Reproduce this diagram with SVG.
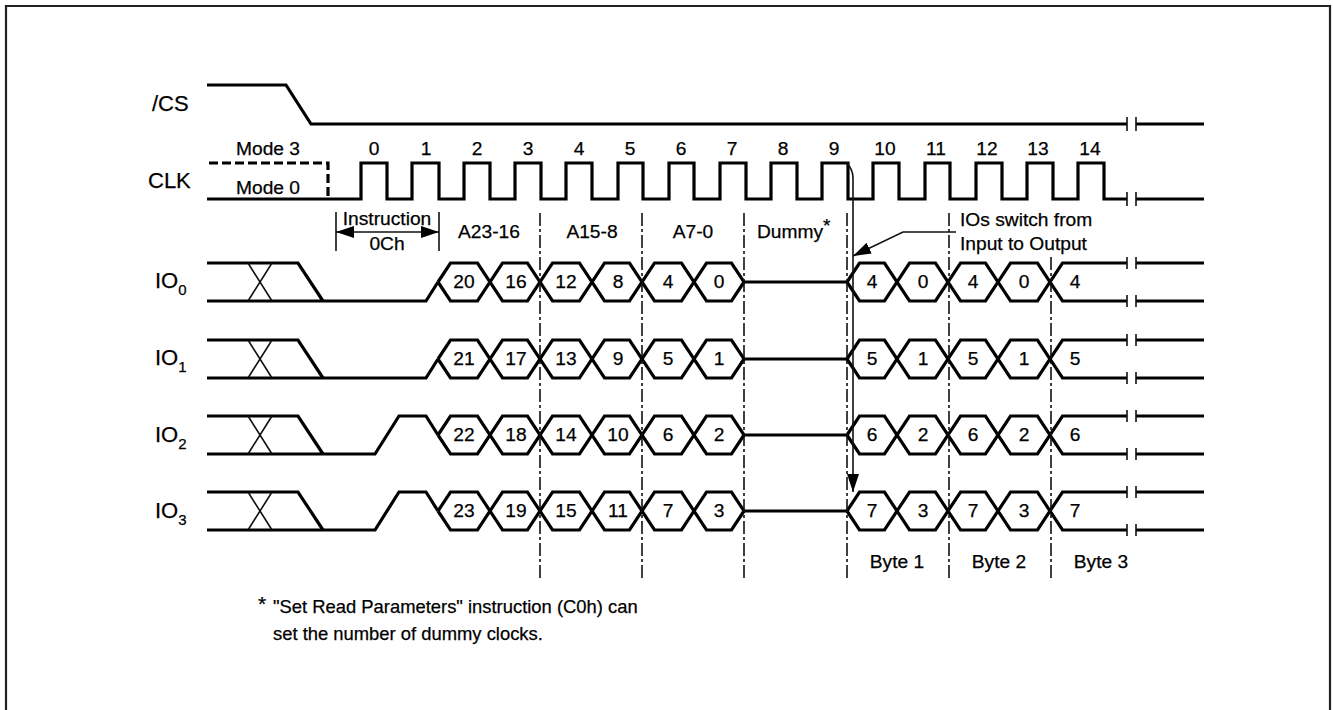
<svg xmlns="http://www.w3.org/2000/svg" xmlns:xlink="http://www.w3.org/1999/xlink" width="1333" height="710" viewBox="0 0 1333 710">
<style>
text{font-family:"Liberation Sans",Arial,sans-serif;font-size:19.2px;fill:#000;stroke:#000;stroke-width:.25}
.m{text-anchor:middle}
.sig{font-size:22px}
.sub{font-size:15px}
.fn{font-size:18.4px}
.w{fill:none;stroke:#000;stroke-width:3.2}
.t{fill:none;stroke:#111;stroke-width:1.6}
.d{fill:none;stroke:#111;stroke-width:1.6;stroke-dasharray:13 3 3 3}
.dk{fill:none;stroke:#000;stroke-width:3.2;stroke-dasharray:9 4}
</style>
<defs>
<marker id="ah" markerUnits="userSpaceOnUse" markerWidth="20" markerHeight="14" refX="18" refY="7" orient="auto-start-reverse"><path d="M0,1 L18,7 L0,13 Z" fill="#000"/></marker>
<g id="bus">
<path class="w" d="M207,0 H298 L323,38 M207,38 H323"/>
<path class="t" d="M248,0 L272,38 M272,0 L248,38"/>
<path class="w" d="M438,19 L450.5,0 H477.5 L502.5,38 H527.5 L552.5,0 H579.5 L604.5,38 H629.5 L654.5,0 H681.5 L706.5,38 H731.5 L744,19"/>
<path class="w" d="M438,19 L450.5,38 H477.5 L502.5,0 H527.5 L552.5,38 H579.5 L604.5,0 H629.5 L654.5,38 H681.5 L706.5,0 H731.5 L744,19 H847"/>
<path class="w" d="M847,19 L859.5,0 H884.5 L909.5,38 H935.5 L960.5,0 H985.5 L1010.5,38 H1037.5 L1062.5,0 H1127"/>
<path class="w" d="M847,19 L859.5,38 H884.5 L909.5,0 H935.5 L960.5,38 H985.5 L1010.5,0 H1037.5 L1062.5,38 H1127"/>
<path class="w" d="M1136,0 H1204 M1136,38 H1204"/>
<path class="t" d="M1127,-6 V6 M1136,-6 V6 M1127,32 V44 M1136,32 V44"/>
</g>
</defs>
<g id="frame"><path d="M6,710 V6 H1330 V710" fill="none" stroke="#222" stroke-width="2.2"/></g>

<g id="cs">
<text class="sig" x="152" y="111">/CS</text>
<path class="w" d="M207,85 H286 L311,124 H1127 M1136,124 H1204"/>
<path class="t" d="M1127,117 V131 M1136,117 V131"/>
</g>

<g id="clk">
<text class="sig" x="148" y="188">CLK</text>
<text class="m" x="268" y="155">Mode 3</text>
<text class="m" x="268" y="194">Mode 0</text>
<path class="dk" d="M209,163 H328 V199"/>
<path class="w" d="M207,199 H361 V163 H387 V199 H412 V163 H439 V199 H464 V163 H490 V199 H515 V163 H541 V199 H566 V163 H592 V199 H618 V163 H643 V199 H669 V163 H694 V199 H720 V163 H746 V199 H771 V163 H797 V199 H822 V163 H848 V199 H873 V163 H899 V199 H925 V163 H950 V199 H976 V163 H1002 V199 H1027 V163 H1053 V199 H1078 V163 H1104 V199 H1127 M1136,199 H1204"/>
<path class="t" d="M1127,192 V206 M1136,192 V206"/>
<g>
<text class="m" x="374" y="155">0</text><text class="m" x="426" y="155">1</text><text class="m" x="477" y="155">2</text><text class="m" x="528" y="155">3</text><text class="m" x="579" y="155">4</text><text class="m" x="630" y="155">5</text><text class="m" x="681" y="155">6</text><text class="m" x="732" y="155">7</text><text class="m" x="783" y="155">8</text><text class="m" x="834" y="155">9</text><text class="m" x="885" y="155">10</text><text class="m" x="936" y="155">11</text><text class="m" x="987" y="155">12</text><text class="m" x="1038" y="155">13</text><text class="m" x="1090" y="155">14</text>
</g>
</g>

<g id="io0">
<text class="sig" x="155" y="288">IO<tspan class="sub" dy="7">0</tspan></text>
<use xlink:href="#bus" href="#bus" y="263"/>
<path class="w" d="M323,301 H426 L438,282"/>
<g>
<text class="m" x="464" y="288">20</text><text class="m" x="516" y="288">16</text><text class="m" x="566" y="288">12</text><text class="m" x="618" y="288">8</text><text class="m" x="668" y="288">4</text><text class="m" x="719" y="288">0</text>
<text class="m" x="872" y="288">4</text><text class="m" x="923" y="288">0</text><text class="m" x="973" y="288">4</text><text class="m" x="1024" y="288">0</text><text class="m" x="1075" y="288">4</text>
</g>
</g>

<g id="io1">
<text class="sig" x="155" y="365">IO<tspan class="sub" dy="7">1</tspan></text>
<use xlink:href="#bus" href="#bus" y="340"/>
<path class="w" d="M323,378 H426 L438,359"/>
<g>
<text class="m" x="464" y="365">21</text><text class="m" x="516" y="365">17</text><text class="m" x="566" y="365">13</text><text class="m" x="618" y="365">9</text><text class="m" x="668" y="365">5</text><text class="m" x="719" y="365">1</text>
<text class="m" x="872" y="365">5</text><text class="m" x="923" y="365">1</text><text class="m" x="973" y="365">5</text><text class="m" x="1024" y="365">1</text><text class="m" x="1075" y="365">5</text>
</g>
</g>

<g id="io2">
<text class="sig" x="155" y="442">IO<tspan class="sub" dy="7">2</tspan></text>
<use xlink:href="#bus" href="#bus" y="416"/>
<path class="w" d="M323,454 H375 L399,416 H426 L438,435"/>
<g>
<text class="m" x="464" y="441">22</text><text class="m" x="516" y="441">18</text><text class="m" x="566" y="441">14</text><text class="m" x="618" y="441">10</text><text class="m" x="668" y="441">6</text><text class="m" x="719" y="441">2</text>
<text class="m" x="872" y="441">6</text><text class="m" x="923" y="441">2</text><text class="m" x="973" y="441">6</text><text class="m" x="1024" y="441">2</text><text class="m" x="1075" y="441">6</text>
</g>
</g>

<g id="io3">
<text class="sig" x="155" y="518">IO<tspan class="sub" dy="7">3</tspan></text>
<use xlink:href="#bus" href="#bus" y="492"/>
<path class="w" d="M323,530 H375 L399,492 H426 L438,511"/>
<g>
<text class="m" x="464" y="517">23</text><text class="m" x="516" y="517">19</text><text class="m" x="566" y="517">15</text><text class="m" x="618" y="517">11</text><text class="m" x="668" y="517">7</text><text class="m" x="719" y="517">3</text>
<text class="m" x="872" y="517">7</text><text class="m" x="923" y="517">3</text><text class="m" x="973" y="517">7</text><text class="m" x="1024" y="517">3</text><text class="m" x="1075" y="517">7</text>
</g>
</g>

<g id="connectors">
<path class="d" d="M540,213 V579 M642,213 V579 M744,213 V579 M847,213 V579 M949,213 V579 M1051,257 V579"/>
<path class="t" d="M336,212 V251 M439,212 V251"/>
<path class="t" d="M336,232 H439" marker-start="url(#ah)" marker-end="url(#ah)"/>
<path class="t" d="M956,232 H903 L853,256" marker-end="url(#ah)"/>
<path class="t" d="M847,163 Q853,170 853,178 V492" marker-end="url(#ah)"/>
</g>

<g id="labels">
<text class="m" x="387" y="225">Instruction</text>
<text class="m" x="387" y="250">0Ch</text>
<text class="m" x="489" y="238">A23-16</text>
<text class="m" x="592" y="238">A15-8</text>
<text class="m" x="693" y="238">A7-0</text>
<text x="757" y="238">Dummy<tspan dy="-6">*</tspan></text>
<text x="960" y="226">IOs switch from</text>
<text x="960" y="250">Input to Output</text>
<text class="m" x="897" y="568">Byte 1</text>
<text class="m" x="999" y="568">Byte 2</text>
<text class="m" x="1101" y="568">Byte 3</text>
<text x="258" y="611" style="font-size:21px">*</text>
<text class="fn" x="273" y="613">"Set Read Parameters" instruction (C0h) can</text>
<text class="fn" x="273" y="640">set the number of dummy clocks.</text>
</g>
</svg>
